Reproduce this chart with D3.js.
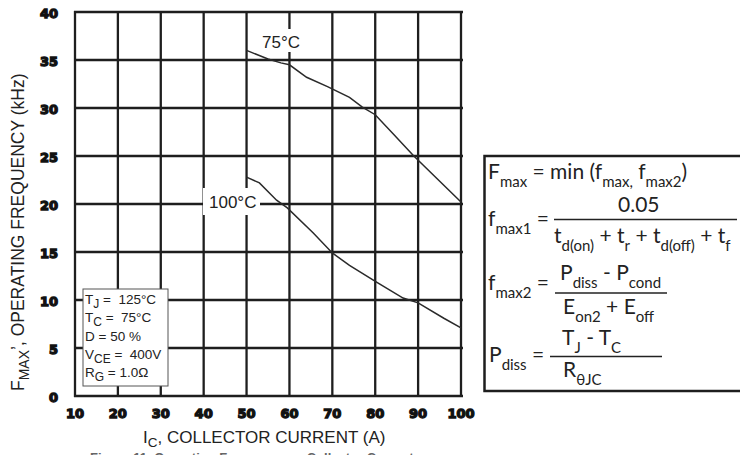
<!DOCTYPE html>
<html>
<head>
<meta charset="utf-8">
<script src="https://cdn.jsdelivr.net/npm/d3@7"></script>
<style>
  body { margin: 0; background: #fff; }
  svg { display: block; }
  text { white-space: pre; }
  .ax { font-family: "Liberation Sans", Arial, sans-serif; fill: #222; }
  .tick-lbl { font-family: "DejaVu Sans", sans-serif; font-weight: bold; font-size: 13px; fill: #111; stroke: #111; stroke-width: 1.3px; }
  .fx { font-family: Lato, "Open Sans", sans-serif; fill: #222; }
</style>
</head>
<body>
<div id="chart"></div>
<script>
// tick values
const currentTicks = [10, 20, 30, 40, 50, 60, 70, 80, 90, 100];
const freqTicks = [0, 5, 10, 15, 20, 25, 30, 35, 40];

// curves (A, kHz)
const t75Current = [50, 55, 58, 60, 64, 69, 74, 77, 80, 84, 89, 100];
const t75Freq    = [36.0, 35.1, 34.7, 34.5, 33.2, 32.2, 31.1, 30.1, 29.3, 27.4, 25.0, 20.2];
const t100Current = [50, 53, 57, 59.5, 65.5, 70, 74, 80.5, 86.5, 90, 96, 100];
const t100Freq    = [22.8, 22.2, 20.4, 19.6, 17.0, 14.9, 13.6, 11.8, 10.2, 9.7, 8.1, 7.1];

// test conditions
const condLabels = [["T", "J", " =  125°C"], ["T", "C", " =  75°C"], ["D = 50 %", "", ""], ["V", "CE", " =  400V"], ["R", "G", " = 1.0Ω"]];

const W = 740, H = 455;
const svg = d3.select("#chart").append("svg").attr("width", W).attr("height", H);

let x = d3.scaleLinear().domain([10, 100]).range([75, 461]);
let y = d3.scaleLinear().domain([0, 40]).range([396, 12]);

// grid
let grid = svg.append("g").attr("stroke", "#1e1e1e").attr("stroke-width", 2.3);
grid.selectAll("line.v").data(currentTicks).join("line")
  .attr("x1", d => x(d)).attr("x2", d => x(d))
  .attr("y1", y(40) - 1).attr("y2", y(0) + 1);
grid.selectAll("line.h").data(freqTicks).join("line")
  .attr("y1", d => y(d)).attr("y2", d => y(d))
  .attr("x1", x(10) - 1).attr("x2", x(100) + 2);

// tick labels
svg.selectAll("text.yt").data(freqTicks).join("text")
  .attr("class", "tick-lbl")
  .attr("x", 58).attr("y", d => y(d) + 5.5)
  .attr("text-anchor", "end")
  .text(d => d);
svg.selectAll("text.xt").data(currentTicks).join("text")
  .attr("class", "tick-lbl")
  .attr("x", d => x(d)).attr("y", 418)
  .attr("text-anchor", "middle")
  .text(d => d);

// curve labels with white backing
function curveLabel(txt, bx, by, bw, bh, tx, ty) {
  svg.append("rect").attr("x", bx).attr("y", by).attr("width", bw).attr("height", bh).attr("fill", "#fff");
  svg.append("text").attr("class", "ax").attr("x", tx).attr("y", ty)
    .style("font-size", "17px").text(txt);
}
curveLabel("75°C", 258, 29, 44, 23, 262, 48);
curveLabel("100°C", 203, 188, 57, 27, 209, 208);

// curves
let line = d3.line().x(d => x(d[0])).y(d => y(d[1]));
[[t75Current, t75Freq], [t100Current, t100Freq]].forEach(function(s) {
  svg.append("path")
    .datum(d3.zip(s[0], s[1]))
    .attr("fill", "none")
    .attr("stroke", "#2a2a2a")
    .attr("stroke-width", 1.5)
    .attr("d", line);
});

// conditions box
svg.append("rect").attr("x", 83).attr("y", 289).attr("width", 85).attr("height", 97)
  .attr("fill", "#fff").attr("stroke", "#555").attr("stroke-width", 1);
condLabels.forEach(function(c, i) {
  let t = svg.append("text").attr("class", "ax").attr("x", 85).attr("y", 304 + i * 18.3)
    .style("font-size", "13.5px");
  t.append("tspan").text(c[0]);
  if (c[1]) {
    t.append("tspan").attr("dy", 4).style("font-size", "12px").text(c[1]);
    t.append("tspan").attr("dy", -4).text(c[2]);
  }
});

// axis titles
let xt = svg.append("text").attr("class", "ax").attr("x", 143).attr("y", 443).style("font-size", "17px");
xt.append("tspan").text("I");
xt.append("tspan").attr("dy", 4).style("font-size", "13.5px").text("C");
xt.append("tspan").attr("dy", -4).text(", COLLECTOR CURRENT (A)");

let yt = svg.append("text").attr("class", "ax")
  .attr("transform", "translate(24,391) rotate(-90)").style("font-size", "17.5px");
yt.append("tspan").text("F");
yt.append("tspan").attr("dy", 5).style("font-size", "14px").text("MAX");
yt.append("tspan").attr("dy", -5).text("’, OPERATING FREQUENCY (kHz)");

// caption (partly cut by the bottom edge, as in the source)
svg.append("text").attr("class", "ax").attr("x", 90).attr("y", 462)
  .style("font-size", "13px").style("font-weight", "bold").style("fill", "#666")
  .text("Figure 11. Operating Frequency vs Collector Current");

// formula box
svg.append("rect").attr("x", 484.5).attr("y", 156).attr("width", 280).attr("height", 235)
  .attr("fill", "#fff").attr("stroke", "#1e1e1e").attr("stroke-width", 2.5);

// parts: [text, isSub]
function formula(parts, px, py, size, subSize) {
  let t = svg.append("text").attr("class", "fx").attr("x", px).attr("y", py).style("font-size", size + "px");
  let sub = false;
  parts.forEach(function(p) {
    let ts = t.append("tspan").text(p[0]);
    if (p[1] && !sub) { ts.attr("dy", 8).style("font-size", subSize + "px"); sub = true; }
    else if (p[1]) { ts.style("font-size", subSize + "px"); }
    else if (!p[1] && sub) { ts.attr("dy", -8); sub = false; }
  });
  return t;
}
function bar(x1, x2, yy) {
  svg.append("line").attr("x1", x1).attr("x2", x2).attr("y1", yy).attr("y2", yy)
    .attr("stroke", "#222").attr("stroke-width", 1.6);
}

formula([["F"], ["max", 1], [" = min (f"], ["max,", 1], [" f"], ["max2", 1], [")"]], 488, 179, 21, 15);

formula([["f"], ["max1", 1], [" ="]], 488, 226, 21, 15);
formula([["0.05"]], 618, 212, 21, 15);
bar(554, 737, 219.5);
formula([["t"], ["d(on)", 1], [" + t"], ["r", 1], [" + t"], ["d(off)", 1], [" + t"], ["f", 1]], 554, 243, 21, 15);

formula([["f"], ["max2", 1], [" ="]], 488, 290, 21, 15);
formula([["P"], ["diss", 1], [" - P"], ["cond", 1]], 560, 280, 21, 15);
bar(555, 667, 293);
formula([["E"], ["on2", 1], [" + E"], ["off", 1]], 563, 314, 21, 15);

formula([["P"], ["diss", 1], [" ="]], 489, 362, 21, 15);
formula([["T"], ["J", 1], [" - T"], ["C", 1]], 562, 345, 21, 15);
bar(550, 662, 356.5);
formula([["R"], ["θJC", 1]], 563, 377, 21, 15);
</script>
</body>
</html>
